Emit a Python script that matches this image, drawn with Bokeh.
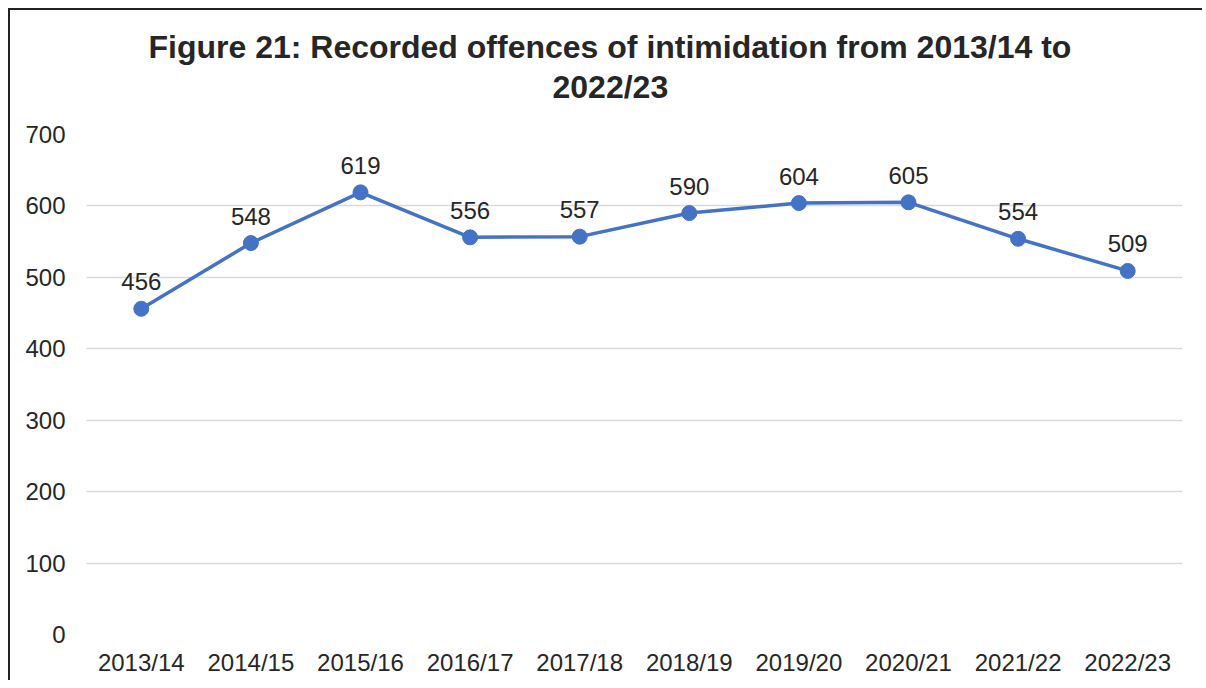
from bokeh.plotting import figure
from bokeh.models import Range1d, Title, ColumnDataSource
from bokeh.embed import file_html
from bokeh.resources import INLINE
from bokeh.core.properties import value

years = ["2013/14", "2014/15", "2015/16", "2016/17", "2017/18",
         "2018/19", "2019/20", "2020/21", "2021/22", "2022/23"]
offences = [456, 548, 619, 556, 557, 590, 604, 605, 554, 509]
y_ticks = [0, 100, 200, 300, 400, 500, 600, 700]
title_line1 = "Figure 21: Recorded offences of intimidation from 2013/14 to"
title_line2 = "2022/23"

FONT = "Liberation Sans"
TXT = "#262626"
BLUE = "#4472C4"

src = ColumnDataSource(dict(x=years, y=offences, lbl=[str(v) for v in offences]))

p = figure(width=1194, height=672, x_range=years, y_range=Range1d(0, 700),
           output_backend="svg", toolbar_location=None, title=None,
           min_border_left=76, min_border_right=22, min_border_top=124,
           min_border_bottom=48)
p.styles = {"border-left": "2px solid #222222", "border-top": "2px solid #222222",
            "margin-left": "8px", "margin-top": "8px"}
p.outline_line_color = None
p.background_fill_color = "white"
p.border_fill_color = "white"

spacer = Title(text=" ", text_font_size="1px", standoff=27)
t2 = Title(text=title_line2, align="left", offset=466, text_font=FONT,
           text_font_size="32px", text_font_style="bold", text_color=TXT, standoff=0)
t1 = Title(text=title_line1, align="left", offset=62, text_font=FONT,
           text_font_size="32px", text_font_style="bold", text_color=TXT, standoff=3)
p.add_layout(spacer, "above")
p.add_layout(t2, "above")
p.add_layout(t1, "above")

p.line("x", "y", source=src, line_color=BLUE, line_width=3.5)
p.scatter("x", "y", source=src, size=15, fill_color=BLUE, line_color=BLUE)
p.text("x", "y", text="lbl", source=src, text_align="center", text_baseline="alphabetic",
       y_offset=-27, text_font=value(FONT), text_font_size="24px", text_color=TXT)

p.yaxis.ticker = y_ticks
for ax in (p.xaxis[0], p.yaxis[0]):
    ax.axis_line_color = None
    ax.major_tick_line_color = None
    ax.minor_tick_line_color = None
    ax.major_label_text_font = FONT
    ax.major_label_text_font_size = "24px"
    ax.major_label_text_color = TXT
p.yaxis.major_label_standoff = 15
p.xaxis.major_label_standoff = 8

p.xgrid.grid_line_color = None
p.ygrid.grid_line_color = "#D9D9D9"
p.ygrid.grid_line_width = 1.5

open("out.html", "w").write(file_html(p, INLINE))
